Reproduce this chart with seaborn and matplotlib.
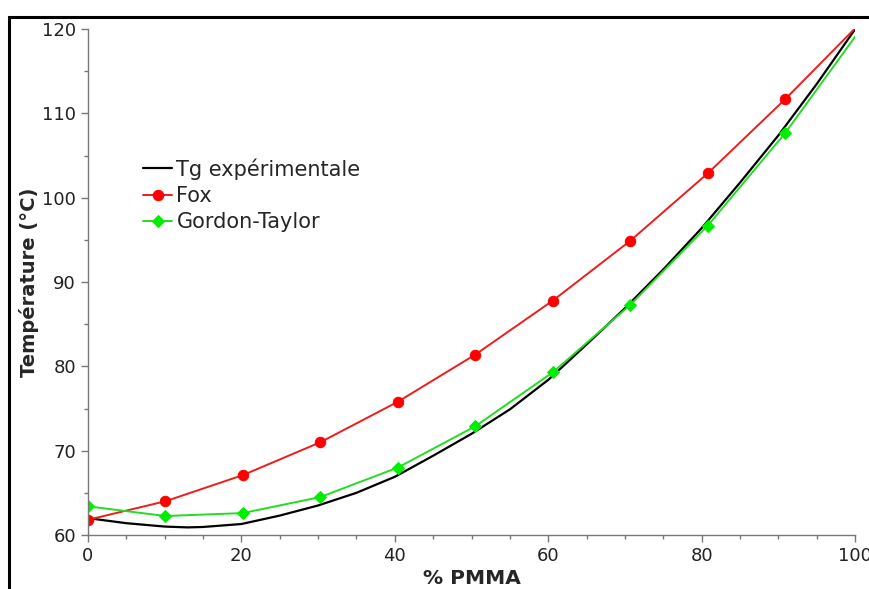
import matplotlib
matplotlib.use("Agg")
import matplotlib.pyplot as plt
import matplotlib.patches as patches
from matplotlib.ticker import MultipleLocator
import seaborn as sns

# % PMMA where the model points sit (last line point at 100 has no marker)
x_model = [0, 10.1, 20.2, 30.3, 40.4, 50.5, 60.6, 70.7, 80.8, 90.9, 100]
fox = [61.8, 64.0, 67.1, 71.0, 75.8, 81.4, 87.8, 94.9, 102.9, 111.7, 120.1]
gordon_taylor = [63.4, 62.25, 62.6, 64.5, 68.0, 72.9, 79.3, 87.3, 96.7, 107.7, 119.1]

x_exp = [0, 5, 10, 13, 15, 20, 25, 30, 35, 40, 45, 50, 55, 60, 65, 70, 75, 80, 85, 90, 95, 100]
tg_exp = [62.0, 61.4, 61.0, 60.9, 60.95, 61.3, 62.3, 63.5, 65.0, 66.9, 69.4, 72.0,
          74.9, 78.4, 82.6, 86.9, 91.5, 96.4, 101.8, 107.4, 113.5, 120.0]

sns.set_style("white")
plt.rcParams['font.family'] = ['DejaVu Sans']

fig = plt.figure(figsize=(8.7, 5.89), dpi=100)
ax = fig.add_axes([0.101, 0.0917, 0.882, 0.859])

sns.lineplot(x=x_exp, y=tg_exp, ax=ax, color='black', lw=1.6, label='Tg expérimentale')
sns.lineplot(x=x_model, y=fox, ax=ax, color='#ee1c1c', lw=1.4, marker='o', markersize=7.5,
             markerfacecolor='#ff0000', markeredgecolor='#ff0000',
             markevery=list(range(len(x_model) - 1)), label='Fox')
sns.lineplot(x=x_model, y=gordon_taylor, ax=ax, color='#22dd22', lw=1.4, marker='D', markersize=6,
             markerfacecolor='#00ee00', markeredgecolor='#00ee00',
             markevery=list(range(len(x_model) - 1)), label='Gordon-Taylor')

ax.set_xlim(0, 100)
ax.set_ylim(60, 120)
ax.xaxis.set_major_locator(MultipleLocator(20))
ax.xaxis.set_minor_locator(MultipleLocator(5))
ax.yaxis.set_major_locator(MultipleLocator(10))
ax.yaxis.set_minor_locator(MultipleLocator(5))

for side in ['top', 'right']:
    ax.spines[side].set_visible(False)
for side in ['left', 'bottom']:
    ax.spines[side].set_color('#777777')
    ax.spines[side].set_linewidth(1.0)

ax.tick_params(which='major', direction='out', length=5, width=1, color='#777777',
               labelsize=13, labelcolor='#222222', left=True, bottom=True)
ax.tick_params(which='minor', direction='out', length=3, width=1, color='#777777',
               left=True, bottom=True)

ax.set_xlabel('% PMMA', fontsize=14.5, fontweight='bold', labelpad=3)
ax.set_ylabel('Température (°C)', fontsize=14, fontweight='bold', labelpad=2)

ax.legend(loc='upper left', bbox_to_anchor=(0.072, 0.745), frameon=False, fontsize=15,
          handlelength=1.4, handletextpad=0.2, labelspacing=0.3, borderaxespad=0,
          borderpad=0)

# outer frame, only the left and top edges fall inside the picture
top = 1 - 17 / 589
fig.patches.append(patches.Rectangle((9 / 870, -0.2), 1.2, top + 0.2,
                                     transform=fig.transFigure, fill=False,
                                     edgecolor='black', lw=2.2, zorder=10))

fig.savefig('out.png', dpi=100)
